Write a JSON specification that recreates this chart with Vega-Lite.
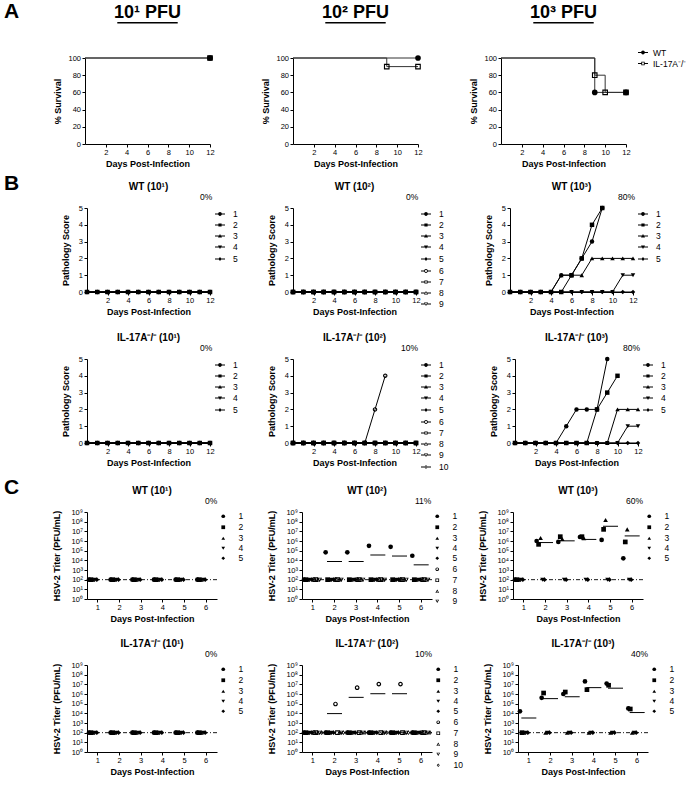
{
"$schema":"https://vega.github.io/schema/vega-lite/v6.json",
"padding":{"left":4,"top":0,"right":2,"bottom":2},
"background":"white",
"config":{
 "font":"Liberation Sans",
 "view":{"stroke":null},
 "axis":{"domainColor":"#000","domainWidth":1,"tickColor":"#000","tickWidth":1,"tickSize":3,"labelColor":"#000","labelFontSize":7.5,"labelPadding":1.5,"titleColor":"#000","titleFontSize":9,"titleFontWeight":"bold","grid":false,"labelFlush":false,"labelOverlap":false},
 "legend":{"labelFontSize":8.5,"labelColor":"#000","titleFontSize":8.5,"titleFontWeight":"normal","titleColor":"#000","titleOrient":"left","titleAnchor":"start","titleBaseline":"line-bottom","titleLineHeight":20,"titlePadding":1,"padding":0,"rowPadding":0,"labelOffset":5},
 "title":{"fontSize":10,"fontWeight":"bold","color":"#000","offset":12}
},
"datasets":{
"surv":[
{"dose":1,"g":"IL-17A⁻/⁻","day":0,"pct":100},{"dose":1,"g":"IL-17A⁻/⁻","day":12,"pct":100},
{"dose":1,"g":"WT","day":0,"pct":100},{"dose":1,"g":"WT","day":12,"pct":100},
{"dose":2,"g":"IL-17A⁻/⁻","day":0,"pct":100},{"dose":2,"g":"IL-17A⁻/⁻","day":9,"pct":90},{"dose":2,"g":"IL-17A⁻/⁻","day":12,"pct":90},
{"dose":2,"g":"WT","day":0,"pct":100},{"dose":2,"g":"WT","day":12,"pct":100},
{"dose":3,"g":"IL-17A⁻/⁻","day":0,"pct":100},{"dose":3,"g":"IL-17A⁻/⁻","day":9,"pct":80},{"dose":3,"g":"IL-17A⁻/⁻","day":10,"pct":60},{"dose":3,"g":"IL-17A⁻/⁻","day":12,"pct":60},
{"dose":3,"g":"WT","day":0,"pct":100},{"dose":3,"g":"WT","day":9,"pct":60},{"dose":3,"g":"WT","day":12,"pct":60}
],
"path":[
{"p":"W1","m":1,"d":0,"s":0},{"p":"W1","m":1,"d":1,"s":0},{"p":"W1","m":1,"d":2,"s":0},{"p":"W1","m":1,"d":3,"s":0},{"p":"W1","m":1,"d":4,"s":0},{"p":"W1","m":1,"d":5,"s":0},{"p":"W1","m":1,"d":6,"s":0},{"p":"W1","m":1,"d":7,"s":0},{"p":"W1","m":1,"d":8,"s":0},{"p":"W1","m":1,"d":9,"s":0},{"p":"W1","m":1,"d":10,"s":0},{"p":"W1","m":1,"d":11,"s":0},{"p":"W1","m":1,"d":12,"s":0},
{"p":"W1","m":2,"d":0,"s":0},{"p":"W1","m":2,"d":1,"s":0},{"p":"W1","m":2,"d":2,"s":0},{"p":"W1","m":2,"d":3,"s":0},{"p":"W1","m":2,"d":4,"s":0},{"p":"W1","m":2,"d":5,"s":0},{"p":"W1","m":2,"d":6,"s":0},{"p":"W1","m":2,"d":7,"s":0},{"p":"W1","m":2,"d":8,"s":0},{"p":"W1","m":2,"d":9,"s":0},{"p":"W1","m":2,"d":10,"s":0},{"p":"W1","m":2,"d":11,"s":0},{"p":"W1","m":2,"d":12,"s":0},
{"p":"W1","m":3,"d":0,"s":0},{"p":"W1","m":3,"d":1,"s":0},{"p":"W1","m":3,"d":2,"s":0},{"p":"W1","m":3,"d":3,"s":0},{"p":"W1","m":3,"d":4,"s":0},{"p":"W1","m":3,"d":5,"s":0},{"p":"W1","m":3,"d":6,"s":0},{"p":"W1","m":3,"d":7,"s":0},{"p":"W1","m":3,"d":8,"s":0},{"p":"W1","m":3,"d":9,"s":0},{"p":"W1","m":3,"d":10,"s":0},{"p":"W1","m":3,"d":11,"s":0},{"p":"W1","m":3,"d":12,"s":0},
{"p":"W1","m":4,"d":0,"s":0},{"p":"W1","m":4,"d":1,"s":0},{"p":"W1","m":4,"d":2,"s":0},{"p":"W1","m":4,"d":3,"s":0},{"p":"W1","m":4,"d":4,"s":0},{"p":"W1","m":4,"d":5,"s":0},{"p":"W1","m":4,"d":6,"s":0},{"p":"W1","m":4,"d":7,"s":0},{"p":"W1","m":4,"d":8,"s":0},{"p":"W1","m":4,"d":9,"s":0},{"p":"W1","m":4,"d":10,"s":0},{"p":"W1","m":4,"d":11,"s":0},{"p":"W1","m":4,"d":12,"s":0},
{"p":"W1","m":5,"d":0,"s":0},{"p":"W1","m":5,"d":1,"s":0},{"p":"W1","m":5,"d":2,"s":0},{"p":"W1","m":5,"d":3,"s":0},{"p":"W1","m":5,"d":4,"s":0},{"p":"W1","m":5,"d":5,"s":0},{"p":"W1","m":5,"d":6,"s":0},{"p":"W1","m":5,"d":7,"s":0},{"p":"W1","m":5,"d":8,"s":0},{"p":"W1","m":5,"d":9,"s":0},{"p":"W1","m":5,"d":10,"s":0},{"p":"W1","m":5,"d":11,"s":0},{"p":"W1","m":5,"d":12,"s":0},
{"p":"W2","m":1,"d":0,"s":0},{"p":"W2","m":1,"d":1,"s":0},{"p":"W2","m":1,"d":2,"s":0},{"p":"W2","m":1,"d":3,"s":0},{"p":"W2","m":1,"d":4,"s":0},{"p":"W2","m":1,"d":5,"s":0},{"p":"W2","m":1,"d":6,"s":0},{"p":"W2","m":1,"d":7,"s":0},{"p":"W2","m":1,"d":8,"s":0},{"p":"W2","m":1,"d":9,"s":0},{"p":"W2","m":1,"d":10,"s":0},{"p":"W2","m":1,"d":11,"s":0},{"p":"W2","m":1,"d":12,"s":0},
{"p":"W2","m":2,"d":0,"s":0},{"p":"W2","m":2,"d":1,"s":0},{"p":"W2","m":2,"d":2,"s":0},{"p":"W2","m":2,"d":3,"s":0},{"p":"W2","m":2,"d":4,"s":0},{"p":"W2","m":2,"d":5,"s":0},{"p":"W2","m":2,"d":6,"s":0},{"p":"W2","m":2,"d":7,"s":0},{"p":"W2","m":2,"d":8,"s":0},{"p":"W2","m":2,"d":9,"s":0},{"p":"W2","m":2,"d":10,"s":0},{"p":"W2","m":2,"d":11,"s":0},{"p":"W2","m":2,"d":12,"s":0},
{"p":"W2","m":3,"d":0,"s":0},{"p":"W2","m":3,"d":1,"s":0},{"p":"W2","m":3,"d":2,"s":0},{"p":"W2","m":3,"d":3,"s":0},{"p":"W2","m":3,"d":4,"s":0},{"p":"W2","m":3,"d":5,"s":0},{"p":"W2","m":3,"d":6,"s":0},{"p":"W2","m":3,"d":7,"s":0},{"p":"W2","m":3,"d":8,"s":0},{"p":"W2","m":3,"d":9,"s":0},{"p":"W2","m":3,"d":10,"s":0},{"p":"W2","m":3,"d":11,"s":0},{"p":"W2","m":3,"d":12,"s":0},
{"p":"W2","m":4,"d":0,"s":0},{"p":"W2","m":4,"d":1,"s":0},{"p":"W2","m":4,"d":2,"s":0},{"p":"W2","m":4,"d":3,"s":0},{"p":"W2","m":4,"d":4,"s":0},{"p":"W2","m":4,"d":5,"s":0},{"p":"W2","m":4,"d":6,"s":0},{"p":"W2","m":4,"d":7,"s":0},{"p":"W2","m":4,"d":8,"s":0},{"p":"W2","m":4,"d":9,"s":0},{"p":"W2","m":4,"d":10,"s":0},{"p":"W2","m":4,"d":11,"s":0},{"p":"W2","m":4,"d":12,"s":0},
{"p":"W2","m":5,"d":0,"s":0},{"p":"W2","m":5,"d":1,"s":0},{"p":"W2","m":5,"d":2,"s":0},{"p":"W2","m":5,"d":3,"s":0},{"p":"W2","m":5,"d":4,"s":0},{"p":"W2","m":5,"d":5,"s":0},{"p":"W2","m":5,"d":6,"s":0},{"p":"W2","m":5,"d":7,"s":0},{"p":"W2","m":5,"d":8,"s":0},{"p":"W2","m":5,"d":9,"s":0},{"p":"W2","m":5,"d":10,"s":0},{"p":"W2","m":5,"d":11,"s":0},{"p":"W2","m":5,"d":12,"s":0},
{"p":"W2","m":6,"d":0,"s":0},{"p":"W2","m":6,"d":1,"s":0},{"p":"W2","m":6,"d":2,"s":0},{"p":"W2","m":6,"d":3,"s":0},{"p":"W2","m":6,"d":4,"s":0},{"p":"W2","m":6,"d":5,"s":0},{"p":"W2","m":6,"d":6,"s":0},{"p":"W2","m":6,"d":7,"s":0},{"p":"W2","m":6,"d":8,"s":0},{"p":"W2","m":6,"d":9,"s":0},{"p":"W2","m":6,"d":10,"s":0},{"p":"W2","m":6,"d":11,"s":0},{"p":"W2","m":6,"d":12,"s":0},
{"p":"W2","m":7,"d":0,"s":0},{"p":"W2","m":7,"d":1,"s":0},{"p":"W2","m":7,"d":2,"s":0},{"p":"W2","m":7,"d":3,"s":0},{"p":"W2","m":7,"d":4,"s":0},{"p":"W2","m":7,"d":5,"s":0},{"p":"W2","m":7,"d":6,"s":0},{"p":"W2","m":7,"d":7,"s":0},{"p":"W2","m":7,"d":8,"s":0},{"p":"W2","m":7,"d":9,"s":0},{"p":"W2","m":7,"d":10,"s":0},{"p":"W2","m":7,"d":11,"s":0},{"p":"W2","m":7,"d":12,"s":0},
{"p":"W2","m":8,"d":0,"s":0},{"p":"W2","m":8,"d":1,"s":0},{"p":"W2","m":8,"d":2,"s":0},{"p":"W2","m":8,"d":3,"s":0},{"p":"W2","m":8,"d":4,"s":0},{"p":"W2","m":8,"d":5,"s":0},{"p":"W2","m":8,"d":6,"s":0},{"p":"W2","m":8,"d":7,"s":0},{"p":"W2","m":8,"d":8,"s":0},{"p":"W2","m":8,"d":9,"s":0},{"p":"W2","m":8,"d":10,"s":0},{"p":"W2","m":8,"d":11,"s":0},{"p":"W2","m":8,"d":12,"s":0},
{"p":"W2","m":9,"d":0,"s":0},{"p":"W2","m":9,"d":1,"s":0},{"p":"W2","m":9,"d":2,"s":0},{"p":"W2","m":9,"d":3,"s":0},{"p":"W2","m":9,"d":4,"s":0},{"p":"W2","m":9,"d":5,"s":0},{"p":"W2","m":9,"d":6,"s":0},{"p":"W2","m":9,"d":7,"s":0},{"p":"W2","m":9,"d":8,"s":0},{"p":"W2","m":9,"d":9,"s":0},{"p":"W2","m":9,"d":10,"s":0},{"p":"W2","m":9,"d":11,"s":0},{"p":"W2","m":9,"d":12,"s":0},
{"p":"W3","m":1,"d":0,"s":0},{"p":"W3","m":1,"d":1,"s":0},{"p":"W3","m":1,"d":2,"s":0},{"p":"W3","m":1,"d":3,"s":0},{"p":"W3","m":1,"d":4,"s":0},{"p":"W3","m":1,"d":5,"s":1},{"p":"W3","m":1,"d":6,"s":1},{"p":"W3","m":1,"d":7,"s":2},{"p":"W3","m":1,"d":8,"s":3},{"p":"W3","m":1,"d":9,"s":5},
{"p":"W3","m":2,"d":0,"s":0},{"p":"W3","m":2,"d":1,"s":0},{"p":"W3","m":2,"d":2,"s":0},{"p":"W3","m":2,"d":3,"s":0},{"p":"W3","m":2,"d":4,"s":0},{"p":"W3","m":2,"d":5,"s":0},{"p":"W3","m":2,"d":6,"s":1},{"p":"W3","m":2,"d":7,"s":2},{"p":"W3","m":2,"d":8,"s":4},{"p":"W3","m":2,"d":9,"s":5},
{"p":"W3","m":3,"d":0,"s":0},{"p":"W3","m":3,"d":1,"s":0},{"p":"W3","m":3,"d":2,"s":0},{"p":"W3","m":3,"d":3,"s":0},{"p":"W3","m":3,"d":4,"s":0},{"p":"W3","m":3,"d":5,"s":1},{"p":"W3","m":3,"d":6,"s":1},{"p":"W3","m":3,"d":7,"s":1},{"p":"W3","m":3,"d":8,"s":2},{"p":"W3","m":3,"d":9,"s":2},{"p":"W3","m":3,"d":10,"s":2},{"p":"W3","m":3,"d":11,"s":2},{"p":"W3","m":3,"d":12,"s":2},
{"p":"W3","m":4,"d":0,"s":0},{"p":"W3","m":4,"d":1,"s":0},{"p":"W3","m":4,"d":2,"s":0},{"p":"W3","m":4,"d":3,"s":0},{"p":"W3","m":4,"d":4,"s":0},{"p":"W3","m":4,"d":5,"s":0},{"p":"W3","m":4,"d":6,"s":0},{"p":"W3","m":4,"d":7,"s":0},{"p":"W3","m":4,"d":8,"s":0},{"p":"W3","m":4,"d":9,"s":0},{"p":"W3","m":4,"d":10,"s":0},{"p":"W3","m":4,"d":11,"s":1},{"p":"W3","m":4,"d":12,"s":1},
{"p":"W3","m":5,"d":0,"s":0},{"p":"W3","m":5,"d":1,"s":0},{"p":"W3","m":5,"d":2,"s":0},{"p":"W3","m":5,"d":3,"s":0},{"p":"W3","m":5,"d":4,"s":0},{"p":"W3","m":5,"d":5,"s":0},{"p":"W3","m":5,"d":6,"s":0},{"p":"W3","m":5,"d":7,"s":0},{"p":"W3","m":5,"d":8,"s":0},{"p":"W3","m":5,"d":9,"s":0},{"p":"W3","m":5,"d":10,"s":0},{"p":"W3","m":5,"d":11,"s":0},{"p":"W3","m":5,"d":12,"s":0},
{"p":"I1","m":1,"d":0,"s":0},{"p":"I1","m":1,"d":1,"s":0},{"p":"I1","m":1,"d":2,"s":0},{"p":"I1","m":1,"d":3,"s":0},{"p":"I1","m":1,"d":4,"s":0},{"p":"I1","m":1,"d":5,"s":0},{"p":"I1","m":1,"d":6,"s":0},{"p":"I1","m":1,"d":7,"s":0},{"p":"I1","m":1,"d":8,"s":0},{"p":"I1","m":1,"d":9,"s":0},{"p":"I1","m":1,"d":10,"s":0},{"p":"I1","m":1,"d":11,"s":0},{"p":"I1","m":1,"d":12,"s":0},
{"p":"I1","m":2,"d":0,"s":0},{"p":"I1","m":2,"d":1,"s":0},{"p":"I1","m":2,"d":2,"s":0},{"p":"I1","m":2,"d":3,"s":0},{"p":"I1","m":2,"d":4,"s":0},{"p":"I1","m":2,"d":5,"s":0},{"p":"I1","m":2,"d":6,"s":0},{"p":"I1","m":2,"d":7,"s":0},{"p":"I1","m":2,"d":8,"s":0},{"p":"I1","m":2,"d":9,"s":0},{"p":"I1","m":2,"d":10,"s":0},{"p":"I1","m":2,"d":11,"s":0},{"p":"I1","m":2,"d":12,"s":0},
{"p":"I1","m":3,"d":0,"s":0},{"p":"I1","m":3,"d":1,"s":0},{"p":"I1","m":3,"d":2,"s":0},{"p":"I1","m":3,"d":3,"s":0},{"p":"I1","m":3,"d":4,"s":0},{"p":"I1","m":3,"d":5,"s":0},{"p":"I1","m":3,"d":6,"s":0},{"p":"I1","m":3,"d":7,"s":0},{"p":"I1","m":3,"d":8,"s":0},{"p":"I1","m":3,"d":9,"s":0},{"p":"I1","m":3,"d":10,"s":0},{"p":"I1","m":3,"d":11,"s":0},{"p":"I1","m":3,"d":12,"s":0},
{"p":"I1","m":4,"d":0,"s":0},{"p":"I1","m":4,"d":1,"s":0},{"p":"I1","m":4,"d":2,"s":0},{"p":"I1","m":4,"d":3,"s":0},{"p":"I1","m":4,"d":4,"s":0},{"p":"I1","m":4,"d":5,"s":0},{"p":"I1","m":4,"d":6,"s":0},{"p":"I1","m":4,"d":7,"s":0},{"p":"I1","m":4,"d":8,"s":0},{"p":"I1","m":4,"d":9,"s":0},{"p":"I1","m":4,"d":10,"s":0},{"p":"I1","m":4,"d":11,"s":0},{"p":"I1","m":4,"d":12,"s":0},
{"p":"I1","m":5,"d":0,"s":0},{"p":"I1","m":5,"d":1,"s":0},{"p":"I1","m":5,"d":2,"s":0},{"p":"I1","m":5,"d":3,"s":0},{"p":"I1","m":5,"d":4,"s":0},{"p":"I1","m":5,"d":5,"s":0},{"p":"I1","m":5,"d":6,"s":0},{"p":"I1","m":5,"d":7,"s":0},{"p":"I1","m":5,"d":8,"s":0},{"p":"I1","m":5,"d":9,"s":0},{"p":"I1","m":5,"d":10,"s":0},{"p":"I1","m":5,"d":11,"s":0},{"p":"I1","m":5,"d":12,"s":0},
{"p":"I2","m":1,"d":0,"s":0},{"p":"I2","m":1,"d":1,"s":0},{"p":"I2","m":1,"d":2,"s":0},{"p":"I2","m":1,"d":3,"s":0},{"p":"I2","m":1,"d":4,"s":0},{"p":"I2","m":1,"d":5,"s":0},{"p":"I2","m":1,"d":6,"s":0},{"p":"I2","m":1,"d":7,"s":0},{"p":"I2","m":1,"d":8,"s":0},{"p":"I2","m":1,"d":9,"s":0},{"p":"I2","m":1,"d":10,"s":0},{"p":"I2","m":1,"d":11,"s":0},{"p":"I2","m":1,"d":12,"s":0},
{"p":"I2","m":2,"d":0,"s":0},{"p":"I2","m":2,"d":1,"s":0},{"p":"I2","m":2,"d":2,"s":0},{"p":"I2","m":2,"d":3,"s":0},{"p":"I2","m":2,"d":4,"s":0},{"p":"I2","m":2,"d":5,"s":0},{"p":"I2","m":2,"d":6,"s":0},{"p":"I2","m":2,"d":7,"s":0},{"p":"I2","m":2,"d":8,"s":0},{"p":"I2","m":2,"d":9,"s":0},{"p":"I2","m":2,"d":10,"s":0},{"p":"I2","m":2,"d":11,"s":0},{"p":"I2","m":2,"d":12,"s":0},
{"p":"I2","m":3,"d":0,"s":0},{"p":"I2","m":3,"d":1,"s":0},{"p":"I2","m":3,"d":2,"s":0},{"p":"I2","m":3,"d":3,"s":0},{"p":"I2","m":3,"d":4,"s":0},{"p":"I2","m":3,"d":5,"s":0},{"p":"I2","m":3,"d":6,"s":0},{"p":"I2","m":3,"d":7,"s":0},{"p":"I2","m":3,"d":8,"s":0},{"p":"I2","m":3,"d":9,"s":0},{"p":"I2","m":3,"d":10,"s":0},{"p":"I2","m":3,"d":11,"s":0},{"p":"I2","m":3,"d":12,"s":0},
{"p":"I2","m":4,"d":0,"s":0},{"p":"I2","m":4,"d":1,"s":0},{"p":"I2","m":4,"d":2,"s":0},{"p":"I2","m":4,"d":3,"s":0},{"p":"I2","m":4,"d":4,"s":0},{"p":"I2","m":4,"d":5,"s":0},{"p":"I2","m":4,"d":6,"s":0},{"p":"I2","m":4,"d":7,"s":0},{"p":"I2","m":4,"d":8,"s":0},{"p":"I2","m":4,"d":9,"s":0},{"p":"I2","m":4,"d":10,"s":0},{"p":"I2","m":4,"d":11,"s":0},{"p":"I2","m":4,"d":12,"s":0},
{"p":"I2","m":5,"d":0,"s":0},{"p":"I2","m":5,"d":1,"s":0},{"p":"I2","m":5,"d":2,"s":0},{"p":"I2","m":5,"d":3,"s":0},{"p":"I2","m":5,"d":4,"s":0},{"p":"I2","m":5,"d":5,"s":0},{"p":"I2","m":5,"d":6,"s":0},{"p":"I2","m":5,"d":7,"s":0},{"p":"I2","m":5,"d":8,"s":0},{"p":"I2","m":5,"d":9,"s":0},{"p":"I2","m":5,"d":10,"s":0},{"p":"I2","m":5,"d":11,"s":0},{"p":"I2","m":5,"d":12,"s":0},
{"p":"I2","m":6,"d":0,"s":0},{"p":"I2","m":6,"d":1,"s":0},{"p":"I2","m":6,"d":2,"s":0},{"p":"I2","m":6,"d":3,"s":0},{"p":"I2","m":6,"d":4,"s":0},{"p":"I2","m":6,"d":5,"s":0},{"p":"I2","m":6,"d":6,"s":0},{"p":"I2","m":6,"d":7,"s":0},{"p":"I2","m":6,"d":8,"s":2},{"p":"I2","m":6,"d":9,"s":4},
{"p":"I2","m":7,"d":0,"s":0},{"p":"I2","m":7,"d":1,"s":0},{"p":"I2","m":7,"d":2,"s":0},{"p":"I2","m":7,"d":3,"s":0},{"p":"I2","m":7,"d":4,"s":0},{"p":"I2","m":7,"d":5,"s":0},{"p":"I2","m":7,"d":6,"s":0},{"p":"I2","m":7,"d":7,"s":0},{"p":"I2","m":7,"d":8,"s":0},{"p":"I2","m":7,"d":9,"s":0},{"p":"I2","m":7,"d":10,"s":0},{"p":"I2","m":7,"d":11,"s":0},{"p":"I2","m":7,"d":12,"s":0},
{"p":"I2","m":8,"d":0,"s":0},{"p":"I2","m":8,"d":1,"s":0},{"p":"I2","m":8,"d":2,"s":0},{"p":"I2","m":8,"d":3,"s":0},{"p":"I2","m":8,"d":4,"s":0},{"p":"I2","m":8,"d":5,"s":0},{"p":"I2","m":8,"d":6,"s":0},{"p":"I2","m":8,"d":7,"s":0},{"p":"I2","m":8,"d":8,"s":0},{"p":"I2","m":8,"d":9,"s":0},{"p":"I2","m":8,"d":10,"s":0},{"p":"I2","m":8,"d":11,"s":0},{"p":"I2","m":8,"d":12,"s":0},
{"p":"I2","m":9,"d":0,"s":0},{"p":"I2","m":9,"d":1,"s":0},{"p":"I2","m":9,"d":2,"s":0},{"p":"I2","m":9,"d":3,"s":0},{"p":"I2","m":9,"d":4,"s":0},{"p":"I2","m":9,"d":5,"s":0},{"p":"I2","m":9,"d":6,"s":0},{"p":"I2","m":9,"d":7,"s":0},{"p":"I2","m":9,"d":8,"s":0},{"p":"I2","m":9,"d":9,"s":0},{"p":"I2","m":9,"d":10,"s":0},{"p":"I2","m":9,"d":11,"s":0},{"p":"I2","m":9,"d":12,"s":0},
{"p":"I2","m":10,"d":0,"s":0},{"p":"I2","m":10,"d":1,"s":0},{"p":"I2","m":10,"d":2,"s":0},{"p":"I2","m":10,"d":3,"s":0},{"p":"I2","m":10,"d":4,"s":0},{"p":"I2","m":10,"d":5,"s":0},{"p":"I2","m":10,"d":6,"s":0},{"p":"I2","m":10,"d":7,"s":0},{"p":"I2","m":10,"d":8,"s":0},{"p":"I2","m":10,"d":9,"s":0},{"p":"I2","m":10,"d":10,"s":0},{"p":"I2","m":10,"d":11,"s":0},{"p":"I2","m":10,"d":12,"s":0},
{"p":"I3","m":1,"d":0,"s":0},{"p":"I3","m":1,"d":1,"s":0},{"p":"I3","m":1,"d":2,"s":0},{"p":"I3","m":1,"d":3,"s":0},{"p":"I3","m":1,"d":4,"s":0},{"p":"I3","m":1,"d":5,"s":1},{"p":"I3","m":1,"d":6,"s":2},{"p":"I3","m":1,"d":7,"s":2},{"p":"I3","m":1,"d":8,"s":2},{"p":"I3","m":1,"d":9,"s":5},
{"p":"I3","m":2,"d":0,"s":0},{"p":"I3","m":2,"d":1,"s":0},{"p":"I3","m":2,"d":2,"s":0},{"p":"I3","m":2,"d":3,"s":0},{"p":"I3","m":2,"d":4,"s":0},{"p":"I3","m":2,"d":5,"s":0},{"p":"I3","m":2,"d":6,"s":0},{"p":"I3","m":2,"d":7,"s":0},{"p":"I3","m":2,"d":8,"s":2},{"p":"I3","m":2,"d":9,"s":3},{"p":"I3","m":2,"d":10,"s":4},
{"p":"I3","m":3,"d":0,"s":0},{"p":"I3","m":3,"d":1,"s":0},{"p":"I3","m":3,"d":2,"s":0},{"p":"I3","m":3,"d":3,"s":0},{"p":"I3","m":3,"d":4,"s":0},{"p":"I3","m":3,"d":5,"s":0},{"p":"I3","m":3,"d":6,"s":0},{"p":"I3","m":3,"d":7,"s":0},{"p":"I3","m":3,"d":8,"s":0},{"p":"I3","m":3,"d":9,"s":0},{"p":"I3","m":3,"d":10,"s":2},{"p":"I3","m":3,"d":11,"s":2},{"p":"I3","m":3,"d":12,"s":2},
{"p":"I3","m":4,"d":0,"s":0},{"p":"I3","m":4,"d":1,"s":0},{"p":"I3","m":4,"d":2,"s":0},{"p":"I3","m":4,"d":3,"s":0},{"p":"I3","m":4,"d":4,"s":0},{"p":"I3","m":4,"d":5,"s":0},{"p":"I3","m":4,"d":6,"s":0},{"p":"I3","m":4,"d":7,"s":0},{"p":"I3","m":4,"d":8,"s":0},{"p":"I3","m":4,"d":9,"s":0},{"p":"I3","m":4,"d":10,"s":0},{"p":"I3","m":4,"d":11,"s":1},{"p":"I3","m":4,"d":12,"s":1},
{"p":"I3","m":5,"d":0,"s":0},{"p":"I3","m":5,"d":1,"s":0},{"p":"I3","m":5,"d":2,"s":0},{"p":"I3","m":5,"d":3,"s":0},{"p":"I3","m":5,"d":4,"s":0},{"p":"I3","m":5,"d":5,"s":0},{"p":"I3","m":5,"d":6,"s":0},{"p":"I3","m":5,"d":7,"s":0},{"p":"I3","m":5,"d":8,"s":0},{"p":"I3","m":5,"d":9,"s":0},{"p":"I3","m":5,"d":10,"s":0},{"p":"I3","m":5,"d":11,"s":0},{"p":"I3","m":5,"d":12,"s":0}
],
"titer":[
{"p":"W1","m":1,"d":1,"v":100},{"p":"W1","m":1,"d":2,"v":100},{"p":"W1","m":1,"d":3,"v":100},{"p":"W1","m":1,"d":4,"v":100},{"p":"W1","m":1,"d":5,"v":100},{"p":"W1","m":1,"d":6,"v":100},
{"p":"W1","m":2,"d":1,"v":100},{"p":"W1","m":2,"d":2,"v":100},{"p":"W1","m":2,"d":3,"v":100},{"p":"W1","m":2,"d":4,"v":100},{"p":"W1","m":2,"d":5,"v":100},{"p":"W1","m":2,"d":6,"v":100},
{"p":"W1","m":3,"d":1,"v":100},{"p":"W1","m":3,"d":2,"v":100},{"p":"W1","m":3,"d":3,"v":100},{"p":"W1","m":3,"d":4,"v":100},{"p":"W1","m":3,"d":5,"v":100},{"p":"W1","m":3,"d":6,"v":100},
{"p":"W1","m":4,"d":1,"v":100},{"p":"W1","m":4,"d":2,"v":100},{"p":"W1","m":4,"d":3,"v":100},{"p":"W1","m":4,"d":4,"v":100},{"p":"W1","m":4,"d":5,"v":100},{"p":"W1","m":4,"d":6,"v":100},
{"p":"W1","m":5,"d":1,"v":100},{"p":"W1","m":5,"d":2,"v":100},{"p":"W1","m":5,"d":3,"v":100},{"p":"W1","m":5,"d":4,"v":100},{"p":"W1","m":5,"d":5,"v":100},{"p":"W1","m":5,"d":6,"v":100},
{"p":"W2","m":1,"d":1,"v":100},{"p":"W2","m":1,"d":2,"v":67000},{"p":"W2","m":1,"d":3,"v":67000},{"p":"W2","m":1,"d":4,"v":320000},{"p":"W2","m":1,"d":5,"v":250000},{"p":"W2","m":1,"d":6,"v":30000},
{"p":"W2","m":2,"d":1,"v":100},{"p":"W2","m":2,"d":2,"v":100},{"p":"W2","m":2,"d":3,"v":100},{"p":"W2","m":2,"d":4,"v":100},{"p":"W2","m":2,"d":5,"v":100},{"p":"W2","m":2,"d":6,"v":100},
{"p":"W2","m":3,"d":1,"v":100},{"p":"W2","m":3,"d":2,"v":100},{"p":"W2","m":3,"d":3,"v":100},{"p":"W2","m":3,"d":4,"v":100},{"p":"W2","m":3,"d":5,"v":100},{"p":"W2","m":3,"d":6,"v":100},
{"p":"W2","m":4,"d":1,"v":100},{"p":"W2","m":4,"d":2,"v":100},{"p":"W2","m":4,"d":3,"v":100},{"p":"W2","m":4,"d":4,"v":100},{"p":"W2","m":4,"d":5,"v":100},{"p":"W2","m":4,"d":6,"v":100},
{"p":"W2","m":5,"d":1,"v":100},{"p":"W2","m":5,"d":2,"v":100},{"p":"W2","m":5,"d":3,"v":100},{"p":"W2","m":5,"d":4,"v":100},{"p":"W2","m":5,"d":5,"v":100},{"p":"W2","m":5,"d":6,"v":100},
{"p":"W2","m":6,"d":1,"v":100},{"p":"W2","m":6,"d":2,"v":100},{"p":"W2","m":6,"d":3,"v":100},{"p":"W2","m":6,"d":4,"v":100},{"p":"W2","m":6,"d":5,"v":100},{"p":"W2","m":6,"d":6,"v":100},
{"p":"W2","m":7,"d":1,"v":100},{"p":"W2","m":7,"d":2,"v":100},{"p":"W2","m":7,"d":3,"v":100},{"p":"W2","m":7,"d":4,"v":100},{"p":"W2","m":7,"d":5,"v":100},{"p":"W2","m":7,"d":6,"v":100},
{"p":"W2","m":8,"d":1,"v":100},{"p":"W2","m":8,"d":2,"v":100},{"p":"W2","m":8,"d":3,"v":100},{"p":"W2","m":8,"d":4,"v":100},{"p":"W2","m":8,"d":5,"v":100},{"p":"W2","m":8,"d":6,"v":100},
{"p":"W2","m":9,"d":1,"v":100},{"p":"W2","m":9,"d":2,"v":100},{"p":"W2","m":9,"d":3,"v":100},{"p":"W2","m":9,"d":4,"v":100},{"p":"W2","m":9,"d":5,"v":100},{"p":"W2","m":9,"d":6,"v":100},
{"p":"W3","m":1,"d":1,"v":100},{"p":"W3","m":1,"d":2,"v":1000000},{"p":"W3","m":1,"d":3,"v":800000},{"p":"W3","m":1,"d":4,"v":2600000},{"p":"W3","m":1,"d":5,"v":1300000},{"p":"W3","m":1,"d":6,"v":16000},
{"p":"W3","m":2,"d":1,"v":100},{"p":"W3","m":2,"d":2,"v":450000},{"p":"W3","m":2,"d":3,"v":2800000},{"p":"W3","m":2,"d":4,"v":2800000},{"p":"W3","m":2,"d":5,"v":16000000},{"p":"W3","m":2,"d":6,"v":800000},
{"p":"W3","m":3,"d":1,"v":100},{"p":"W3","m":3,"d":2,"v":2000000},{"p":"W3","m":3,"d":3,"v":1600000},{"p":"W3","m":3,"d":4,"v":1900000},{"p":"W3","m":3,"d":5,"v":150000000},{"p":"W3","m":3,"d":6,"v":16000000},
{"p":"W3","m":4,"d":1,"v":100},{"p":"W3","m":4,"d":2,"v":100},{"p":"W3","m":4,"d":3,"v":100},{"p":"W3","m":4,"d":4,"v":100},{"p":"W3","m":4,"d":5,"v":100},{"p":"W3","m":4,"d":6,"v":100},
{"p":"W3","m":5,"d":1,"v":100},{"p":"W3","m":5,"d":2,"v":100},{"p":"W3","m":5,"d":3,"v":100},{"p":"W3","m":5,"d":4,"v":100},{"p":"W3","m":5,"d":5,"v":100},{"p":"W3","m":5,"d":6,"v":100},
{"p":"I1","m":1,"d":1,"v":100},{"p":"I1","m":1,"d":2,"v":100},{"p":"I1","m":1,"d":3,"v":100},{"p":"I1","m":1,"d":4,"v":100},{"p":"I1","m":1,"d":5,"v":100},{"p":"I1","m":1,"d":6,"v":100},
{"p":"I1","m":2,"d":1,"v":100},{"p":"I1","m":2,"d":2,"v":100},{"p":"I1","m":2,"d":3,"v":100},{"p":"I1","m":2,"d":4,"v":100},{"p":"I1","m":2,"d":5,"v":100},{"p":"I1","m":2,"d":6,"v":100},
{"p":"I1","m":3,"d":1,"v":100},{"p":"I1","m":3,"d":2,"v":100},{"p":"I1","m":3,"d":3,"v":100},{"p":"I1","m":3,"d":4,"v":100},{"p":"I1","m":3,"d":5,"v":100},{"p":"I1","m":3,"d":6,"v":100},
{"p":"I1","m":4,"d":1,"v":100},{"p":"I1","m":4,"d":2,"v":100},{"p":"I1","m":4,"d":3,"v":100},{"p":"I1","m":4,"d":4,"v":100},{"p":"I1","m":4,"d":5,"v":100},{"p":"I1","m":4,"d":6,"v":100},
{"p":"I1","m":5,"d":1,"v":100},{"p":"I1","m":5,"d":2,"v":100},{"p":"I1","m":5,"d":3,"v":100},{"p":"I1","m":5,"d":4,"v":100},{"p":"I1","m":5,"d":5,"v":100},{"p":"I1","m":5,"d":6,"v":100},
{"p":"I2","m":1,"d":1,"v":100},{"p":"I2","m":1,"d":2,"v":100},{"p":"I2","m":1,"d":3,"v":100},{"p":"I2","m":1,"d":4,"v":100},{"p":"I2","m":1,"d":5,"v":100},{"p":"I2","m":1,"d":6,"v":100},
{"p":"I2","m":2,"d":1,"v":100},{"p":"I2","m":2,"d":2,"v":100},{"p":"I2","m":2,"d":3,"v":100},{"p":"I2","m":2,"d":4,"v":100},{"p":"I2","m":2,"d":5,"v":100},{"p":"I2","m":2,"d":6,"v":100},
{"p":"I2","m":3,"d":1,"v":100},{"p":"I2","m":3,"d":2,"v":100},{"p":"I2","m":3,"d":3,"v":100},{"p":"I2","m":3,"d":4,"v":100},{"p":"I2","m":3,"d":5,"v":100},{"p":"I2","m":3,"d":6,"v":100},
{"p":"I2","m":4,"d":1,"v":100},{"p":"I2","m":4,"d":2,"v":100},{"p":"I2","m":4,"d":3,"v":100},{"p":"I2","m":4,"d":4,"v":100},{"p":"I2","m":4,"d":5,"v":100},{"p":"I2","m":4,"d":6,"v":100},
{"p":"I2","m":5,"d":1,"v":100},{"p":"I2","m":5,"d":2,"v":100},{"p":"I2","m":5,"d":3,"v":100},{"p":"I2","m":5,"d":4,"v":100},{"p":"I2","m":5,"d":5,"v":100},{"p":"I2","m":5,"d":6,"v":100},
{"p":"I2","m":6,"d":1,"v":100},{"p":"I2","m":6,"d":2,"v":93000},{"p":"I2","m":6,"d":3,"v":4500000},{"p":"I2","m":6,"d":4,"v":10700000},{"p":"I2","m":6,"d":5,"v":10700000},{"p":"I2","m":6,"d":6,"v":100},
{"p":"I2","m":7,"d":1,"v":100},{"p":"I2","m":7,"d":2,"v":100},{"p":"I2","m":7,"d":3,"v":100},{"p":"I2","m":7,"d":4,"v":100},{"p":"I2","m":7,"d":5,"v":100},{"p":"I2","m":7,"d":6,"v":100},
{"p":"I2","m":8,"d":1,"v":100},{"p":"I2","m":8,"d":2,"v":100},{"p":"I2","m":8,"d":3,"v":100},{"p":"I2","m":8,"d":4,"v":100},{"p":"I2","m":8,"d":5,"v":100},{"p":"I2","m":8,"d":6,"v":100},
{"p":"I2","m":9,"d":1,"v":100},{"p":"I2","m":9,"d":2,"v":100},{"p":"I2","m":9,"d":3,"v":100},{"p":"I2","m":9,"d":4,"v":100},{"p":"I2","m":9,"d":5,"v":100},{"p":"I2","m":9,"d":6,"v":100},
{"p":"I2","m":10,"d":1,"v":100},{"p":"I2","m":10,"d":2,"v":100},{"p":"I2","m":10,"d":3,"v":100},{"p":"I2","m":10,"d":4,"v":100},{"p":"I2","m":10,"d":5,"v":100},{"p":"I2","m":10,"d":6,"v":100},
{"p":"I3","m":1,"d":1,"v":16000},{"p":"I3","m":1,"d":2,"v":400000},{"p":"I3","m":1,"d":3,"v":1000000},{"p":"I3","m":1,"d":4,"v":20000000},{"p":"I3","m":1,"d":5,"v":12000000},{"p":"I3","m":1,"d":6,"v":32000},
{"p":"I3","m":2,"d":1,"v":100},{"p":"I3","m":2,"d":2,"v":1260000},{"p":"I3","m":2,"d":3,"v":1600000},{"p":"I3","m":2,"d":4,"v":2800000},{"p":"I3","m":2,"d":5,"v":8000000},{"p":"I3","m":2,"d":6,"v":28000},
{"p":"I3","m":3,"d":1,"v":100},{"p":"I3","m":3,"d":2,"v":100},{"p":"I3","m":3,"d":3,"v":100},{"p":"I3","m":3,"d":4,"v":100},{"p":"I3","m":3,"d":5,"v":100},{"p":"I3","m":3,"d":6,"v":100},
{"p":"I3","m":4,"d":1,"v":100},{"p":"I3","m":4,"d":2,"v":100},{"p":"I3","m":4,"d":3,"v":100},{"p":"I3","m":4,"d":4,"v":100},{"p":"I3","m":4,"d":5,"v":100},{"p":"I3","m":4,"d":6,"v":100},
{"p":"I3","m":5,"d":1,"v":100},{"p":"I3","m":5,"d":2,"v":100},{"p":"I3","m":5,"d":3,"v":100},{"p":"I3","m":5,"d":4,"v":100},{"p":"I3","m":5,"d":5,"v":100},{"p":"I3","m":5,"d":6,"v":100}
]
},
"spacing":4,
"vconcat":[
{"spacing":33,"hconcat":[
 {"data":{"values":[{"t":""}]},"width":1,"height":1,"title":{"text":"A","fontSize":21,"anchor":"start","offset":31},"mark":{"type":"text"},"encoding":{"text":{"field":"t"}}},
 {"spacing":46,"hconcat":[
  {"width":125,"height":86,"title":{"text":"10¹ PFU","fontSize":18,"offset":0},
   "data":{"name":"surv"},"transform":[{"filter":"datum.dose == 1"}],
   "layer":[
    {"mark":{"type":"line","interpolate":"step-after","color":"#333","strokeWidth":1},
     "encoding":{"x":{"field":"day","type":"quantitative","scale":{"domain":[0,12],"nice":false},"axis":{"values":[2,4,6,8,10,12],"tickCount":20,"format":"d","labelOverlap":false,"title":"Days Post-Infection","titlePadding":3}},
      "y":{"field":"pct","type":"quantitative","scale":{"domain":[0,100]},"axis":{"values":[0,20,40,60,80,100],"tickCount":20,"format":"d","labelOverlap":false,"title":"% Survival","titlePadding":5}},
      "detail":{"field":"g","type":"nominal"}}},
    {"transform":[{"filter":"datum.day > 0"}],
     "mark":{"type":"point","filled":true,"opacity":1,"size":32,"color":"#000"},
     "encoding":{"x":{"field":"day","type":"quantitative"},"y":{"field":"pct","type":"quantitative"},
      "shape":{"field":"g","type":"nominal","scale":{"domain":["WT","IL-17A⁻/⁻"],"range":["circle","M-1,-1H1V1H-1ZM-0.6,-0.6V0.6H0.6V-0.6Z"]},"legend":null}}},
    {"data":{"values":[{"u":1}]},"mark":{"type":"rule","color":"#000","strokeWidth":1.5},
     "encoding":{"x":{"datum":3.1},"x2":{"datum":8.9},"y":{"datum":141}}}
   ]},
  {"width":125,"height":86,"title":{"text":"10² PFU","fontSize":18,"offset":0},
   "data":{"name":"surv"},"transform":[{"filter":"datum.dose == 2"}],
   "layer":[
    {"mark":{"type":"line","interpolate":"step-after","color":"#333","strokeWidth":1},
     "encoding":{"x":{"field":"day","type":"quantitative","scale":{"domain":[0,12],"nice":false},"axis":{"values":[2,4,6,8,10,12],"tickCount":20,"format":"d","labelOverlap":false,"title":"Days Post-Infection","titlePadding":3}},
      "y":{"field":"pct","type":"quantitative","scale":{"domain":[0,100]},"axis":{"values":[0,20,40,60,80,100],"tickCount":20,"format":"d","labelOverlap":false,"title":"% Survival","titlePadding":5}},
      "detail":{"field":"g","type":"nominal"}}},
    {"transform":[{"filter":"datum.day > 0"}],
     "mark":{"type":"point","filled":true,"opacity":1,"size":32,"color":"#000"},
     "encoding":{"x":{"field":"day","type":"quantitative"},"y":{"field":"pct","type":"quantitative"},
      "shape":{"field":"g","type":"nominal","scale":{"domain":["WT","IL-17A⁻/⁻"],"range":["circle","M-1,-1H1V1H-1ZM-0.6,-0.6V0.6H0.6V-0.6Z"]},"legend":null}}},
    {"data":{"values":[{"u":1}]},"mark":{"type":"rule","color":"#000","strokeWidth":1.5},
     "encoding":{"x":{"datum":3.1},"x2":{"datum":8.9},"y":{"datum":141}}}
   ]},
  {"width":125,"height":86,"title":{"text":"10³ PFU","fontSize":18,"offset":0},
   "data":{"name":"surv"},"transform":[{"filter":"datum.dose == 3"}],
   "resolve":{"scale":{"shape":"independent"}},
   "layer":[
    {"mark":{"type":"line","interpolate":"step-after","color":"#333","strokeWidth":1},
     "encoding":{"x":{"field":"day","type":"quantitative","scale":{"domain":[0,12],"nice":false},"axis":{"values":[2,4,6,8,10,12],"tickCount":20,"format":"d","labelOverlap":false,"title":"Days Post-Infection","titlePadding":3}},
      "y":{"field":"pct","type":"quantitative","scale":{"domain":[0,100]},"axis":{"values":[0,20,40,60,80,100],"tickCount":20,"format":"d","labelOverlap":false,"title":"% Survival","titlePadding":5}},
      "detail":{"field":"g","type":"nominal"}}},
    {"transform":[{"filter":"datum.day > 0"}],
     "mark":{"type":"point","filled":true,"opacity":1,"size":32,"color":"#000"},
     "encoding":{"x":{"field":"day","type":"quantitative"},"y":{"field":"pct","type":"quantitative"},
      "shape":{"field":"g","type":"nominal","scale":{"domain":["WT","IL-17A⁻/⁻"],"range":["circle","M-1,-1H1V1H-1ZM-0.6,-0.6V0.6H0.6V-0.6Z"]},"legend":null}}},
    {"data":{"values":[{"u":1}]},"mark":{"type":"rule","color":"#000","strokeWidth":1.5},
     "encoding":{"x":{"datum":3.1},"x2":{"datum":8.9},"y":{"datum":141}}},
    {"transform":[{"filter":"datum.day < 0"}],
     "mark":{"type":"point","filled":true,"opacity":1,"color":"#000"},
     "encoding":{
      "shape":{"field":"g","type":"nominal","scale":{"domain":["WT","IL-17A⁻/⁻"],"range":["M-1,-0.08H-0.2V0.08H-1ZM0.2,-0.08H1V0.08H0.2ZM0.38,0A0.38,0.38,0,1,1,-0.38,0A0.38,0.38,0,1,1,0.38,0Z","M-1,-0.08H-0.2V0.08H-1ZM0.2,-0.08H1V0.08H0.2ZM-0.34,-0.34H0.34V0.34H-0.34ZM-0.18,-0.18V0.18H0.18V-0.18Z"]},"legend":{"title":" ","titleOrient":"top","titleBaseline":"top","titleLineHeight":8.5,"titlePadding":-20,"offset":9,"symbolSize":100,"labelOffset":4}}}}
   ]}
 ]}
]},
{"spacing":3,"vconcat":[
{"spacing":41,"hconcat":[
 {"data":{"values":[{"t":""}]},"width":1,"height":1,"title":{"text":"B","fontSize":21,"anchor":"start","offset":9},"mark":{"type":"text"},"encoding":{"text":{"field":"t"}}},
 {"spacing":17,"vconcat":[
  {"spacing":40,"hconcat":[
  {"spacing":29,"hconcat":[
   {"width":123,"height":84,"title":"WT (10¹)","data":{"name":"path"},"transform":[{"filter":"datum.p == 'W1'"}],
    "resolve":{"scale":{"shape":"independent"}},
    "layer":[
     {"mark":{"type":"line","color":"#000","strokeWidth":1},"encoding":{"x":{"field":"d","type":"quantitative","scale":{"domain":[0,12],"nice":false},"axis":{"values":[2,4,6,8,10,12],"tickCount":20,"format":"d","labelOverlap":false,"title":"Days Post-Infection","titlePadding":3}},"y":{"field":"s","type":"quantitative","scale":{"domain":[0,5]},"axis":{"values":[0,1,2,3,4,5],"tickCount":20,"format":"d","labelOverlap":false,"title":"Pathology Score","titlePadding":8}},"detail":{"field":"m","type":"nominal"}}},
     {"mark":{"type":"point","filled":true,"opacity":1,"size":20,"color":"#000"},"encoding":{"x":{"field":"d","type":"quantitative"},"y":{"field":"s","type":"quantitative"},
      "shape":{"field":"m","type":"nominal","scale":{"domain":[1,2,3,4,5],"range":["circle","square","triangle-up","triangle-down","diamond"]},"legend":null}}},
     {"transform":[{"filter":"datum.s < 0"}],"mark":{"type":"point","filled":true,"opacity":1,"color":"#000"},"encoding":{
      "shape":{"field":"m","type":"nominal","scale":{"domain":[1,2,3,4,5],"range":["M-1,-0.08H-0.2V0.08H-1ZM0.2,-0.08H1V0.08H0.2ZM0.38,0A0.38,0.38,0,1,1,-0.38,0A0.38,0.38,0,1,1,0.38,0Z","M-1,-0.08H-0.2V0.08H-1ZM0.2,-0.08H1V0.08H0.2ZM-0.32,-0.32H0.32V0.32H-0.32Z","M-1,-0.08H-0.2V0.08H-1ZM0.2,-0.08H1V0.08H0.2ZM0,-0.42L0.4,0.3H-0.4Z","M-1,-0.08H-0.2V0.08H-1ZM0.2,-0.08H1V0.08H0.2ZM0,0.42L-0.4,-0.3H0.4Z","M-1,-0.08H-0.2V0.08H-1ZM0.2,-0.08H1V0.08H0.2ZM0,-0.42L0.32,0L0,0.42L-0.32,0Z"]},"legend":{"title":"0%","offset":-12,"symbolSize":100,"labelOffset":7,"rowPadding":-1.5}}}}
    ]},
   {"width":123,"height":84,"title":"WT (10²)","data":{"name":"path"},"transform":[{"filter":"datum.p == 'W2'"}],
    "resolve":{"scale":{"shape":"independent"}},
    "layer":[
     {"mark":{"type":"line","color":"#000","strokeWidth":1},"encoding":{"x":{"field":"d","type":"quantitative","scale":{"domain":[0,12],"nice":false},"axis":{"values":[2,4,6,8,10,12],"tickCount":20,"format":"d","labelOverlap":false,"title":"Days Post-Infection","titlePadding":3}},"y":{"field":"s","type":"quantitative","scale":{"domain":[0,5]},"axis":{"values":[0,1,2,3,4,5],"tickCount":20,"format":"d","labelOverlap":false,"title":"Pathology Score","titlePadding":8}},"detail":{"field":"m","type":"nominal"}}},
     {"mark":{"type":"point","filled":true,"opacity":1,"size":20,"color":"#000"},"encoding":{"x":{"field":"d","type":"quantitative"},"y":{"field":"s","type":"quantitative"},
      "shape":{"field":"m","type":"nominal","scale":{"domain":[1,2,3,4,5,6,7,8,9],"range":["circle","square","triangle-up","triangle-down","diamond","M1,0A1,1,0,1,1,-1,0A1,1,0,1,1,1,0ZM0.5,0A0.5,0.5,0,1,0,-0.5,0A0.5,0.5,0,1,0,0.5,0Z","M-1,-1H1V1H-1ZM-0.55,-0.55V0.55H0.55V-0.55Z","M0,-1L1,0.8H-1ZM0,-0.2L-0.45,0.5H0.45Z","M0,1L1,-0.8H-1ZM0,0.2L-0.45,-0.5H0.45Z"]},"legend":null}}},
     {"transform":[{"filter":"datum.s < 0"}],"mark":{"type":"point","filled":true,"opacity":1,"color":"#000"},"encoding":{
      "shape":{"field":"m","type":"nominal","scale":{"domain":[1,2,3,4,5,6,7,8,9],"range":["M-1,-0.08H-0.2V0.08H-1ZM0.2,-0.08H1V0.08H0.2ZM0.38,0A0.38,0.38,0,1,1,-0.38,0A0.38,0.38,0,1,1,0.38,0Z","M-1,-0.08H-0.2V0.08H-1ZM0.2,-0.08H1V0.08H0.2ZM-0.32,-0.32H0.32V0.32H-0.32Z","M-1,-0.08H-0.2V0.08H-1ZM0.2,-0.08H1V0.08H0.2ZM0,-0.42L0.4,0.3H-0.4Z","M-1,-0.08H-0.2V0.08H-1ZM0.2,-0.08H1V0.08H0.2ZM0,0.42L-0.4,-0.3H0.4Z","M-1,-0.08H-0.2V0.08H-1ZM0.2,-0.08H1V0.08H0.2ZM0,-0.42L0.32,0L0,0.42L-0.32,0Z","M-1,-0.08H-0.2V0.08H-1ZM0.2,-0.08H1V0.08H0.2ZM0.38,0A0.38,0.38,0,1,1,-0.38,0A0.38,0.38,0,1,1,0.38,0ZM0.2,0A0.2,0.2,0,1,0,-0.2,0A0.2,0.2,0,1,0,0.2,0Z","M-1,-0.08H-0.2V0.08H-1ZM0.2,-0.08H1V0.08H0.2ZM-0.32,-0.32H0.32V0.32H-0.32ZM-0.16,-0.16V0.16H0.16V-0.16Z","M-1,-0.08H-0.2V0.08H-1ZM0.2,-0.08H1V0.08H0.2ZM0,-0.42L0.4,0.3H-0.4ZM0,-0.14L-0.19,0.2H0.19Z","M-1,-0.08H-0.2V0.08H-1ZM0.2,-0.08H1V0.08H0.2ZM0,0.42L-0.4,-0.3H0.4ZM0,0.14L0.19,-0.2H-0.19Z"]},"legend":{"title":"0%","offset":-12,"symbolSize":100,"labelOffset":7,"rowPadding":-1.5}}}}
    ]}
  ]},
   {"width":123,"height":84,"title":"WT (10³)","data":{"name":"path"},"transform":[{"filter":"datum.p == 'W3'"}],
    "resolve":{"scale":{"shape":"independent"}},
    "layer":[
     {"mark":{"type":"line","color":"#000","strokeWidth":1},"encoding":{"x":{"field":"d","type":"quantitative","scale":{"domain":[0,12],"nice":false},"axis":{"values":[2,4,6,8,10,12],"tickCount":20,"format":"d","labelOverlap":false,"title":"Days Post-Infection","titlePadding":3}},"y":{"field":"s","type":"quantitative","scale":{"domain":[0,5]},"axis":{"values":[0,1,2,3,4,5],"tickCount":20,"format":"d","labelOverlap":false,"title":"Pathology Score","titlePadding":8}},"detail":{"field":"m","type":"nominal"}}},
     {"mark":{"type":"point","filled":true,"opacity":1,"size":20,"color":"#000"},"encoding":{"x":{"field":"d","type":"quantitative"},"y":{"field":"s","type":"quantitative"},
      "shape":{"field":"m","type":"nominal","scale":{"domain":[1,2,3,4,5],"range":["circle","square","triangle-up","triangle-down","diamond"]},"legend":null}}},
     {"transform":[{"filter":"datum.s < 0"}],"mark":{"type":"point","filled":true,"opacity":1,"color":"#000"},"encoding":{
      "shape":{"field":"m","type":"nominal","scale":{"domain":[1,2,3,4,5],"range":["M-1,-0.08H-0.2V0.08H-1ZM0.2,-0.08H1V0.08H0.2ZM0.38,0A0.38,0.38,0,1,1,-0.38,0A0.38,0.38,0,1,1,0.38,0Z","M-1,-0.08H-0.2V0.08H-1ZM0.2,-0.08H1V0.08H0.2ZM-0.32,-0.32H0.32V0.32H-0.32Z","M-1,-0.08H-0.2V0.08H-1ZM0.2,-0.08H1V0.08H0.2ZM0,-0.42L0.4,0.3H-0.4Z","M-1,-0.08H-0.2V0.08H-1ZM0.2,-0.08H1V0.08H0.2ZM0,0.42L-0.4,-0.3H0.4Z","M-1,-0.08H-0.2V0.08H-1ZM0.2,-0.08H1V0.08H0.2ZM0,-0.42L0.32,0L0,0.42L-0.32,0Z"]},"legend":{"title":"80%","offset":-17,"symbolSize":100,"labelOffset":7,"rowPadding":-1.5}}}}
    ]}
  ]},
  {"spacing":40,"hconcat":[
  {"spacing":29,"hconcat":[
   {"width":123,"height":84,"title":"IL-17A⁻/⁻ (10¹)","data":{"name":"path"},"transform":[{"filter":"datum.p == 'I1'"}],
    "resolve":{"scale":{"shape":"independent"}},
    "layer":[
     {"mark":{"type":"line","color":"#000","strokeWidth":1},"encoding":{"x":{"field":"d","type":"quantitative","scale":{"domain":[0,12],"nice":false},"axis":{"values":[2,4,6,8,10,12],"tickCount":20,"format":"d","labelOverlap":false,"title":"Days Post-Infection","titlePadding":3}},"y":{"field":"s","type":"quantitative","scale":{"domain":[0,5]},"axis":{"values":[0,1,2,3,4,5],"tickCount":20,"format":"d","labelOverlap":false,"title":"Pathology Score","titlePadding":8}},"detail":{"field":"m","type":"nominal"}}},
     {"mark":{"type":"point","filled":true,"opacity":1,"size":20,"color":"#000"},"encoding":{"x":{"field":"d","type":"quantitative"},"y":{"field":"s","type":"quantitative"},
      "shape":{"field":"m","type":"nominal","scale":{"domain":[1,2,3,4,5],"range":["circle","square","triangle-up","triangle-down","diamond"]},"legend":null}}},
     {"transform":[{"filter":"datum.s < 0"}],"mark":{"type":"point","filled":true,"opacity":1,"color":"#000"},"encoding":{
      "shape":{"field":"m","type":"nominal","scale":{"domain":[1,2,3,4,5],"range":["M-1,-0.08H-0.2V0.08H-1ZM0.2,-0.08H1V0.08H0.2ZM0.38,0A0.38,0.38,0,1,1,-0.38,0A0.38,0.38,0,1,1,0.38,0Z","M-1,-0.08H-0.2V0.08H-1ZM0.2,-0.08H1V0.08H0.2ZM-0.32,-0.32H0.32V0.32H-0.32Z","M-1,-0.08H-0.2V0.08H-1ZM0.2,-0.08H1V0.08H0.2ZM0,-0.42L0.4,0.3H-0.4Z","M-1,-0.08H-0.2V0.08H-1ZM0.2,-0.08H1V0.08H0.2ZM0,0.42L-0.4,-0.3H0.4Z","M-1,-0.08H-0.2V0.08H-1ZM0.2,-0.08H1V0.08H0.2ZM0,-0.42L0.32,0L0,0.42L-0.32,0Z"]},"legend":{"title":"0%","offset":-12,"symbolSize":100,"labelOffset":7,"rowPadding":-1.5}}}}
    ]},
   {"width":123,"height":84,"title":"IL-17A⁻/⁻ (10²)","data":{"name":"path"},"transform":[{"filter":"datum.p == 'I2'"}],
    "resolve":{"scale":{"shape":"independent"}},
    "layer":[
     {"mark":{"type":"line","color":"#000","strokeWidth":1},"encoding":{"x":{"field":"d","type":"quantitative","scale":{"domain":[0,12],"nice":false},"axis":{"values":[2,4,6,8,10,12],"tickCount":20,"format":"d","labelOverlap":false,"title":"Days Post-Infection","titlePadding":3}},"y":{"field":"s","type":"quantitative","scale":{"domain":[0,5]},"axis":{"values":[0,1,2,3,4,5],"tickCount":20,"format":"d","labelOverlap":false,"title":"Pathology Score","titlePadding":8}},"detail":{"field":"m","type":"nominal"}}},
     {"mark":{"type":"point","filled":true,"opacity":1,"size":20,"color":"#000"},"encoding":{"x":{"field":"d","type":"quantitative"},"y":{"field":"s","type":"quantitative"},
      "shape":{"field":"m","type":"nominal","scale":{"domain":[1,2,3,4,5,6,7,8,9,10],"range":["circle","square","triangle-up","triangle-down","diamond","M1,0A1,1,0,1,1,-1,0A1,1,0,1,1,1,0ZM0.5,0A0.5,0.5,0,1,0,-0.5,0A0.5,0.5,0,1,0,0.5,0Z","M-1,-1H1V1H-1ZM-0.55,-0.55V0.55H0.55V-0.55Z","M0,-1L1,0.8H-1ZM0,-0.2L-0.45,0.5H0.45Z","M0,1L1,-0.8H-1ZM0,0.2L-0.45,-0.5H0.45Z","M0,-1L0.8,0L0,1L-0.8,0ZM0,-0.45L-0.35,0L0,0.45L0.35,0Z"]},"legend":null}}},
     {"transform":[{"filter":"datum.s < 0"}],"mark":{"type":"point","filled":true,"opacity":1,"color":"#000"},"encoding":{
      "shape":{"field":"m","type":"nominal","scale":{"domain":[1,2,3,4,5,6,7,8,9,10],"range":["M-1,-0.08H-0.2V0.08H-1ZM0.2,-0.08H1V0.08H0.2ZM0.38,0A0.38,0.38,0,1,1,-0.38,0A0.38,0.38,0,1,1,0.38,0Z","M-1,-0.08H-0.2V0.08H-1ZM0.2,-0.08H1V0.08H0.2ZM-0.32,-0.32H0.32V0.32H-0.32Z","M-1,-0.08H-0.2V0.08H-1ZM0.2,-0.08H1V0.08H0.2ZM0,-0.42L0.4,0.3H-0.4Z","M-1,-0.08H-0.2V0.08H-1ZM0.2,-0.08H1V0.08H0.2ZM0,0.42L-0.4,-0.3H0.4Z","M-1,-0.08H-0.2V0.08H-1ZM0.2,-0.08H1V0.08H0.2ZM0,-0.42L0.32,0L0,0.42L-0.32,0Z","M-1,-0.08H-0.2V0.08H-1ZM0.2,-0.08H1V0.08H0.2ZM0.38,0A0.38,0.38,0,1,1,-0.38,0A0.38,0.38,0,1,1,0.38,0ZM0.2,0A0.2,0.2,0,1,0,-0.2,0A0.2,0.2,0,1,0,0.2,0Z","M-1,-0.08H-0.2V0.08H-1ZM0.2,-0.08H1V0.08H0.2ZM-0.32,-0.32H0.32V0.32H-0.32ZM-0.16,-0.16V0.16H0.16V-0.16Z","M-1,-0.08H-0.2V0.08H-1ZM0.2,-0.08H1V0.08H0.2ZM0,-0.42L0.4,0.3H-0.4ZM0,-0.14L-0.19,0.2H0.19Z","M-1,-0.08H-0.2V0.08H-1ZM0.2,-0.08H1V0.08H0.2ZM0,0.42L-0.4,-0.3H0.4ZM0,0.14L0.19,-0.2H-0.19Z","M-1,-0.08H-0.2V0.08H-1ZM0.2,-0.08H1V0.08H0.2ZM0,-0.42L0.32,0L0,0.42L-0.32,0ZM0,-0.2L-0.15,0L0,0.2L0.15,0Z"]},"legend":{"title":"10%","offset":-17,"symbolSize":100,"labelOffset":7,"rowPadding":-1.5}}}}
    ]}
  ]},
   {"width":123,"height":84,"title":"IL-17A⁻/⁻ (10³)","data":{"name":"path"},"transform":[{"filter":"datum.p == 'I3'"}],
    "resolve":{"scale":{"shape":"independent"}},
    "layer":[
     {"mark":{"type":"line","color":"#000","strokeWidth":1},"encoding":{"x":{"field":"d","type":"quantitative","scale":{"domain":[0,12],"nice":false},"axis":{"values":[2,4,6,8,10,12],"tickCount":20,"format":"d","labelOverlap":false,"title":"Days Post-Infection","titlePadding":3}},"y":{"field":"s","type":"quantitative","scale":{"domain":[0,5]},"axis":{"values":[0,1,2,3,4,5],"tickCount":20,"format":"d","labelOverlap":false,"title":"Pathology Score","titlePadding":8}},"detail":{"field":"m","type":"nominal"}}},
     {"mark":{"type":"point","filled":true,"opacity":1,"size":20,"color":"#000"},"encoding":{"x":{"field":"d","type":"quantitative"},"y":{"field":"s","type":"quantitative"},
      "shape":{"field":"m","type":"nominal","scale":{"domain":[1,2,3,4,5],"range":["circle","square","triangle-up","triangle-down","diamond"]},"legend":null}}},
     {"transform":[{"filter":"datum.s < 0"}],"mark":{"type":"point","filled":true,"opacity":1,"color":"#000"},"encoding":{
      "shape":{"field":"m","type":"nominal","scale":{"domain":[1,2,3,4,5],"range":["M-1,-0.08H-0.2V0.08H-1ZM0.2,-0.08H1V0.08H0.2ZM0.38,0A0.38,0.38,0,1,1,-0.38,0A0.38,0.38,0,1,1,0.38,0Z","M-1,-0.08H-0.2V0.08H-1ZM0.2,-0.08H1V0.08H0.2ZM-0.32,-0.32H0.32V0.32H-0.32Z","M-1,-0.08H-0.2V0.08H-1ZM0.2,-0.08H1V0.08H0.2ZM0,-0.42L0.4,0.3H-0.4Z","M-1,-0.08H-0.2V0.08H-1ZM0.2,-0.08H1V0.08H0.2ZM0,0.42L-0.4,-0.3H0.4Z","M-1,-0.08H-0.2V0.08H-1ZM0.2,-0.08H1V0.08H0.2ZM0,-0.42L0.32,0L0,0.42L-0.32,0Z"]},"legend":{"title":"80%","offset":-17,"symbolSize":100,"labelOffset":7,"rowPadding":-1.5}}}}
    ]}
  ]}
 ]}
]},
{"spacing":32,"hconcat":[
 {"data":{"values":[{"t":""}]},"width":1,"height":1,"title":{"text":"C","fontSize":21,"anchor":"start","offset":9},"mark":{"type":"text"},"encoding":{"text":{"field":"t"}}},
 {"spacing":16,"vconcat":[
  {"spacing":20,"hconcat":[
  {"spacing":23,"hconcat":[
   {"width":130,"height":87,"title":"WT (10¹)","resolve":{"scale":{"shape":"independent"}},
    "encoding":{"y":{"field":"v","type":"quantitative","scale":{"type":"log","domain":[1,1000000000],"nice":false},"axis":{"values":[1,10,100,1000,10000,100000,1000000,10000000,100000000,1000000000],"tickCount":20,"labelOverlap":false,"labelExpr":"'10' + ['⁰','¹','²','³','⁴','⁵','⁶','⁷','⁸','⁹'][round(log(datum.value)/LN10)]","title":"HSV-2 Titer (PFU/mL)","titlePadding":9}}},
    "layer":[
     {"data":{"values":[{"v":100}]},"mark":{"type":"rule","color":"#000","strokeWidth":0.9,"strokeDash":[4,2,1,2]},"encoding":{}},
     {"data":{"name":"titer"},"transform":[{"filter":"datum.p == 'W1'"}],"mark":{"type":"point","filled":true,"opacity":1,"size":22,"color":"#000"},
      "encoding":{"x":{"field":"d","type":"ordinal","scale":{"type":"band","paddingInner":0,"paddingOuter":0},"axis":{"labelAngle":0,"title":"Days Post-Infection","titlePadding":3}},
       "xOffset":{"field":"m","type":"nominal","scale":{"paddingOuter":1}},
       "shape":{"field":"m","type":"nominal","scale":{"domain":[1,2,3,4,5],"range":["circle","square","triangle-up","triangle-down","diamond"]},"legend":null}}},
     {"data":{"name":"titer"},"transform":[{"filter":"datum.p == 'W1'"},{"aggregate":[{"op":"mean","field":"v","as":"v"}],"groupby":["d"]},{"filter":"datum.v > 101"}],
      "mark":{"type":"tick","orient":"horizontal","color":"#000","size":15,"thickness":1,"opacity":1},
      "encoding":{"x":{"field":"d","type":"ordinal","scale":{"type":"band","paddingInner":0,"paddingOuter":0},"axis":{"labelAngle":0,"title":"Days Post-Infection","titlePadding":3}}}},
     {"data":{"name":"titer"},"transform":[{"filter":"datum.v < 0"}],"mark":{"type":"point","filled":true,"opacity":1,"color":"#000"},
      "encoding":{"shape":{"field":"m","type":"nominal","scale":{"domain":[1,2,3,4,5],"range":["circle","square","triangle-up","triangle-down","diamond"]},"legend":{"title":"0%","offset":-12,"symbolSize":14,"labelOffset":11}}}}
    ]},
   {"width":130,"height":87,"title":"WT (10²)","resolve":{"scale":{"shape":"independent"}},
    "encoding":{"y":{"field":"v","type":"quantitative","scale":{"type":"log","domain":[1,1000000000],"nice":false},"axis":{"values":[1,10,100,1000,10000,100000,1000000,10000000,100000000,1000000000],"tickCount":20,"labelOverlap":false,"labelExpr":"'10' + ['⁰','¹','²','³','⁴','⁵','⁶','⁷','⁸','⁹'][round(log(datum.value)/LN10)]","title":"HSV-2 Titer (PFU/mL)","titlePadding":9}}},
    "layer":[
     {"data":{"values":[{"v":100}]},"mark":{"type":"rule","color":"#000","strokeWidth":0.9,"strokeDash":[4,2,1,2]},"encoding":{}},
     {"data":{"name":"titer"},"transform":[{"filter":"datum.p == 'W2'"}],"mark":{"type":"point","filled":true,"opacity":1,"size":22,"color":"#000"},
      "encoding":{"x":{"field":"d","type":"ordinal","scale":{"type":"band","paddingInner":0,"paddingOuter":0},"axis":{"labelAngle":0,"title":"Days Post-Infection","titlePadding":3}},
       "xOffset":{"field":"m","type":"nominal","scale":{"paddingOuter":1}},
       "shape":{"field":"m","type":"nominal","scale":{"domain":[1,2,3,4,5,6,7,8,9],"range":["circle","square","triangle-up","triangle-down","diamond","M1,0A1,1,0,1,1,-1,0A1,1,0,1,1,1,0ZM0.5,0A0.5,0.5,0,1,0,-0.5,0A0.5,0.5,0,1,0,0.5,0Z","M-1,-1H1V1H-1ZM-0.55,-0.55V0.55H0.55V-0.55Z","M0,-1L1,0.8H-1ZM0,-0.2L-0.45,0.5H0.45Z","M0,1L1,-0.8H-1ZM0,0.2L-0.45,-0.5H0.45Z"]},"legend":null}}},
     {"data":{"name":"titer"},"transform":[{"filter":"datum.p == 'W2'"},{"aggregate":[{"op":"mean","field":"v","as":"v"}],"groupby":["d"]},{"filter":"datum.v > 101"}],
      "mark":{"type":"tick","orient":"horizontal","color":"#000","size":15,"thickness":1,"opacity":1},
      "encoding":{"x":{"field":"d","type":"ordinal","scale":{"type":"band","paddingInner":0,"paddingOuter":0},"axis":{"labelAngle":0,"title":"Days Post-Infection","titlePadding":3}}}},
     {"data":{"name":"titer"},"transform":[{"filter":"datum.v < 0"}],"mark":{"type":"point","filled":true,"opacity":1,"color":"#000"},
      "encoding":{"shape":{"field":"m","type":"nominal","scale":{"domain":[1,2,3,4,5,6,7,8,9],"range":["circle","square","triangle-up","triangle-down","diamond","M1,0A1,1,0,1,1,-1,0A1,1,0,1,1,1,0ZM0.5,0A0.5,0.5,0,1,0,-0.5,0A0.5,0.5,0,1,0,0.5,0Z","M-1,-1H1V1H-1ZM-0.55,-0.55V0.55H0.55V-0.55Z","M0,-1L1,0.8H-1ZM0,-0.2L-0.45,0.5H0.45Z","M0,1L1,-0.8H-1ZM0,0.2L-0.45,-0.5H0.45Z"]},"legend":{"title":"11%","offset":-17,"symbolSize":14,"labelOffset":11}}}}
    ]}
  ]},
   {"width":130,"height":87,"title":"WT (10³)","resolve":{"scale":{"shape":"independent"}},
    "encoding":{"y":{"field":"v","type":"quantitative","scale":{"type":"log","domain":[1,1000000000],"nice":false},"axis":{"values":[1,10,100,1000,10000,100000,1000000,10000000,100000000,1000000000],"tickCount":20,"labelOverlap":false,"labelExpr":"'10' + ['⁰','¹','²','³','⁴','⁵','⁶','⁷','⁸','⁹'][round(log(datum.value)/LN10)]","title":"HSV-2 Titer (PFU/mL)","titlePadding":9}}},
    "layer":[
     {"data":{"values":[{"v":100}]},"mark":{"type":"rule","color":"#000","strokeWidth":0.9,"strokeDash":[4,2,1,2]},"encoding":{}},
     {"data":{"name":"titer"},"transform":[{"filter":"datum.p == 'W3'"}],"mark":{"type":"point","filled":true,"opacity":1,"size":22,"color":"#000"},
      "encoding":{"x":{"field":"d","type":"ordinal","scale":{"type":"band","paddingInner":0,"paddingOuter":0},"axis":{"labelAngle":0,"title":"Days Post-Infection","titlePadding":3}},
       "xOffset":{"field":"m","type":"nominal","scale":{"paddingOuter":1}},
       "shape":{"field":"m","type":"nominal","scale":{"domain":[1,2,3,4,5],"range":["circle","square","triangle-up","triangle-down","diamond"]},"legend":null}}},
     {"data":{"name":"titer"},"transform":[{"filter":"datum.p == 'W3'"},{"aggregate":[{"op":"mean","field":"v","as":"v"}],"groupby":["d"]},{"filter":"datum.v > 101"}],
      "mark":{"type":"tick","orient":"horizontal","color":"#000","size":15,"thickness":1,"opacity":1},
      "encoding":{"x":{"field":"d","type":"ordinal","scale":{"type":"band","paddingInner":0,"paddingOuter":0},"axis":{"labelAngle":0,"title":"Days Post-Infection","titlePadding":3}}}},
     {"data":{"name":"titer"},"transform":[{"filter":"datum.v < 0"}],"mark":{"type":"point","filled":true,"opacity":1,"color":"#000"},
      "encoding":{"shape":{"field":"m","type":"nominal","scale":{"domain":[1,2,3,4,5],"range":["circle","square","triangle-up","triangle-down","diamond"]},"legend":{"title":"60%","offset":-17,"symbolSize":14,"labelOffset":11}}}}
    ]}
  ]},
  {"spacing":20,"hconcat":[
  {"spacing":23,"hconcat":[
   {"width":130,"height":87,"title":"IL-17A⁻/⁻ (10¹)","resolve":{"scale":{"shape":"independent"}},
    "encoding":{"y":{"field":"v","type":"quantitative","scale":{"type":"log","domain":[1,1000000000],"nice":false},"axis":{"values":[1,10,100,1000,10000,100000,1000000,10000000,100000000,1000000000],"tickCount":20,"labelOverlap":false,"labelExpr":"'10' + ['⁰','¹','²','³','⁴','⁵','⁶','⁷','⁸','⁹'][round(log(datum.value)/LN10)]","title":"HSV-2 Titer (PFU/mL)","titlePadding":9}}},
    "layer":[
     {"data":{"values":[{"v":100}]},"mark":{"type":"rule","color":"#000","strokeWidth":0.9,"strokeDash":[4,2,1,2]},"encoding":{}},
     {"data":{"name":"titer"},"transform":[{"filter":"datum.p == 'I1'"}],"mark":{"type":"point","filled":true,"opacity":1,"size":22,"color":"#000"},
      "encoding":{"x":{"field":"d","type":"ordinal","scale":{"type":"band","paddingInner":0,"paddingOuter":0},"axis":{"labelAngle":0,"title":"Days Post-Infection","titlePadding":3}},
       "xOffset":{"field":"m","type":"nominal","scale":{"paddingOuter":1}},
       "shape":{"field":"m","type":"nominal","scale":{"domain":[1,2,3,4,5],"range":["circle","square","triangle-up","triangle-down","diamond"]},"legend":null}}},
     {"data":{"name":"titer"},"transform":[{"filter":"datum.p == 'I1'"},{"aggregate":[{"op":"mean","field":"v","as":"v"}],"groupby":["d"]},{"filter":"datum.v > 101"}],
      "mark":{"type":"tick","orient":"horizontal","color":"#000","size":15,"thickness":1,"opacity":1},
      "encoding":{"x":{"field":"d","type":"ordinal","scale":{"type":"band","paddingInner":0,"paddingOuter":0},"axis":{"labelAngle":0,"title":"Days Post-Infection","titlePadding":3}}}},
     {"data":{"name":"titer"},"transform":[{"filter":"datum.v < 0"}],"mark":{"type":"point","filled":true,"opacity":1,"color":"#000"},
      "encoding":{"shape":{"field":"m","type":"nominal","scale":{"domain":[1,2,3,4,5],"range":["circle","square","triangle-up","triangle-down","diamond"]},"legend":{"title":"0%","offset":-12,"symbolSize":14,"labelOffset":11}}}}
    ]},
   {"width":130,"height":87,"title":"IL-17A⁻/⁻ (10²)","resolve":{"scale":{"shape":"independent"}},
    "encoding":{"y":{"field":"v","type":"quantitative","scale":{"type":"log","domain":[1,1000000000],"nice":false},"axis":{"values":[1,10,100,1000,10000,100000,1000000,10000000,100000000,1000000000],"tickCount":20,"labelOverlap":false,"labelExpr":"'10' + ['⁰','¹','²','³','⁴','⁵','⁶','⁷','⁸','⁹'][round(log(datum.value)/LN10)]","title":"HSV-2 Titer (PFU/mL)","titlePadding":9}}},
    "layer":[
     {"data":{"values":[{"v":100}]},"mark":{"type":"rule","color":"#000","strokeWidth":0.9,"strokeDash":[4,2,1,2]},"encoding":{}},
     {"data":{"name":"titer"},"transform":[{"filter":"datum.p == 'I2'"}],"mark":{"type":"point","filled":true,"opacity":1,"size":22,"color":"#000"},
      "encoding":{"x":{"field":"d","type":"ordinal","scale":{"type":"band","paddingInner":0,"paddingOuter":0},"axis":{"labelAngle":0,"title":"Days Post-Infection","titlePadding":3}},
       "xOffset":{"field":"m","type":"nominal","scale":{"paddingOuter":1}},
       "shape":{"field":"m","type":"nominal","scale":{"domain":[1,2,3,4,5,6,7,8,9,10],"range":["circle","square","triangle-up","triangle-down","diamond","M1,0A1,1,0,1,1,-1,0A1,1,0,1,1,1,0ZM0.5,0A0.5,0.5,0,1,0,-0.5,0A0.5,0.5,0,1,0,0.5,0Z","M-1,-1H1V1H-1ZM-0.55,-0.55V0.55H0.55V-0.55Z","M0,-1L1,0.8H-1ZM0,-0.2L-0.45,0.5H0.45Z","M0,1L1,-0.8H-1ZM0,0.2L-0.45,-0.5H0.45Z","M0,-1L0.8,0L0,1L-0.8,0ZM0,-0.45L-0.35,0L0,0.45L0.35,0Z"]},"legend":null}}},
     {"data":{"name":"titer"},"transform":[{"filter":"datum.p == 'I2'"},{"aggregate":[{"op":"mean","field":"v","as":"v"}],"groupby":["d"]},{"filter":"datum.v > 101"}],
      "mark":{"type":"tick","orient":"horizontal","color":"#000","size":15,"thickness":1,"opacity":1},
      "encoding":{"x":{"field":"d","type":"ordinal","scale":{"type":"band","paddingInner":0,"paddingOuter":0},"axis":{"labelAngle":0,"title":"Days Post-Infection","titlePadding":3}}}},
     {"data":{"name":"titer"},"transform":[{"filter":"datum.v < 0"}],"mark":{"type":"point","filled":true,"opacity":1,"color":"#000"},
      "encoding":{"shape":{"field":"m","type":"nominal","scale":{"domain":[1,2,3,4,5,6,7,8,9,10],"range":["circle","square","triangle-up","triangle-down","diamond","M1,0A1,1,0,1,1,-1,0A1,1,0,1,1,1,0ZM0.5,0A0.5,0.5,0,1,0,-0.5,0A0.5,0.5,0,1,0,0.5,0Z","M-1,-1H1V1H-1ZM-0.55,-0.55V0.55H0.55V-0.55Z","M0,-1L1,0.8H-1ZM0,-0.2L-0.45,0.5H0.45Z","M0,1L1,-0.8H-1ZM0,0.2L-0.45,-0.5H0.45Z","M0,-1L0.8,0L0,1L-0.8,0ZM0,-0.45L-0.35,0L0,0.45L0.35,0Z"]},"legend":{"title":"10%","offset":-17,"symbolSize":14,"labelOffset":11}}}}
    ]}
  ]},
   {"width":130,"height":87,"title":"IL-17A⁻/⁻ (10³)","resolve":{"scale":{"shape":"independent"}},
    "encoding":{"y":{"field":"v","type":"quantitative","scale":{"type":"log","domain":[1,1000000000],"nice":false},"axis":{"values":[1,10,100,1000,10000,100000,1000000,10000000,100000000,1000000000],"tickCount":20,"labelOverlap":false,"labelExpr":"'10' + ['⁰','¹','²','³','⁴','⁵','⁶','⁷','⁸','⁹'][round(log(datum.value)/LN10)]","title":"HSV-2 Titer (PFU/mL)","titlePadding":9}}},
    "layer":[
     {"data":{"values":[{"v":100}]},"mark":{"type":"rule","color":"#000","strokeWidth":0.9,"strokeDash":[4,2,1,2]},"encoding":{}},
     {"data":{"name":"titer"},"transform":[{"filter":"datum.p == 'I3'"}],"mark":{"type":"point","filled":true,"opacity":1,"size":22,"color":"#000"},
      "encoding":{"x":{"field":"d","type":"ordinal","scale":{"type":"band","paddingInner":0,"paddingOuter":0},"axis":{"labelAngle":0,"title":"Days Post-Infection","titlePadding":3}},
       "xOffset":{"field":"m","type":"nominal","scale":{"paddingOuter":1}},
       "shape":{"field":"m","type":"nominal","scale":{"domain":[1,2,3,4,5],"range":["circle","square","triangle-up","triangle-down","diamond"]},"legend":null}}},
     {"data":{"name":"titer"},"transform":[{"filter":"datum.p == 'I3'"},{"aggregate":[{"op":"mean","field":"v","as":"v"}],"groupby":["d"]},{"filter":"datum.v > 101"}],
      "mark":{"type":"tick","orient":"horizontal","color":"#000","size":15,"thickness":1,"opacity":1},
      "encoding":{"x":{"field":"d","type":"ordinal","scale":{"type":"band","paddingInner":0,"paddingOuter":0},"axis":{"labelAngle":0,"title":"Days Post-Infection","titlePadding":3}}}},
     {"data":{"name":"titer"},"transform":[{"filter":"datum.v < 0"}],"mark":{"type":"point","filled":true,"opacity":1,"color":"#000"},
      "encoding":{"shape":{"field":"m","type":"nominal","scale":{"domain":[1,2,3,4,5],"range":["circle","square","triangle-up","triangle-down","diamond"]},"legend":{"title":"40%","offset":-17,"symbolSize":14,"labelOffset":11}}}}
    ]}
  ]}
 ]}
]}
]}
]
}
